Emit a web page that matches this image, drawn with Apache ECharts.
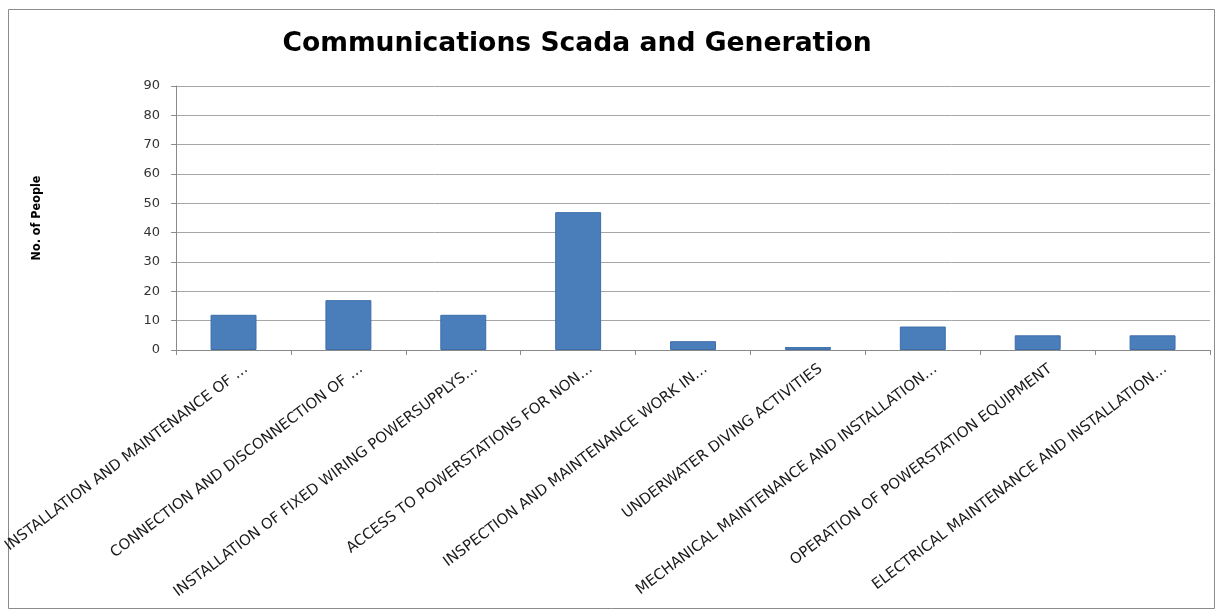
<!DOCTYPE html>
<html>
<head>
<meta charset="utf-8">
<script src="https://cdn.jsdelivr.net/npm/echarts@6/dist/echarts.min.js"></script>
<style>
  html, body { margin: 0; padding: 0; background: #fff; }
  #chart { width: 1219px; height: 612px; }
</style>
</head>
<body>
<div id="chart"></div>
<script>
// Activity categories (x axis)
const categories = [
  'INSTALLATION AND MAINTENANCE OF …',
  'CONNECTION AND DISCONNECTION OF …',
  'INSTALLATION OF FIXED WIRING POWERSUPPLYS…',
  'ACCESS TO POWERSTATIONS FOR NON…',
  'INSPECTION AND MAINTENANCE WORK IN…',
  'UNDERWATER DIVING ACTIVITIES',
  'MECHANICAL MAINTENANCE AND INSTALLATION…',
  'OPERATION OF POWERSTATION EQUIPMENT',
  'ELECTRICAL MAINTENANCE AND INSTALLATION…'
];
// Number of people per activity
const people = [12, 17, 12, 47, 3, 1, 8, 5, 5];
// Value axis range
const yMin = 0, yMax = 90, yStep = 10;

const chart = echarts.init(document.getElementById('chart'), null, { renderer: 'canvas' });
chart.setOption({
  backgroundColor: '#ffffff',
  animation: false,
  title: {
    text: 'Communications Scada and Generation',
    left: 572, top: 26, textAlign: 'center',
    textStyle: { fontFamily: 'DejaVu Sans', fontWeight: 'bold', fontSize: 26.6, color: '#000' }
  },
  graphic: [{
    type: 'rect', left: 6, top: 7,
    shape: { width: 1206, height: 599 },
    style: { fill: 'none', stroke: '#8c8c8c', lineWidth: 1 },
    silent: true
  }],
  grid: { left: 176, right: 9, top: 86, bottom: 262 },
  xAxis: {
    type: 'category',
    data: categories,
    axisLine: { lineStyle: { color: '#8a8a8a', width: 1 } },
    axisTick: { show: true, alignWithLabel: false, length: 5, lineStyle: { color: '#8a8a8a' } },
    axisLabel: {
      interval: 0, rotate: 37, margin: 27,
      padding: [0, -16, 0, 0],
      fontFamily: 'DejaVu Sans', fontSize: 14.8, color: '#1a1a1a'
    }
  },
  yAxis: {
    type: 'value',
    min: yMin, max: yMax, interval: yStep,
    name: 'No. of People',
    nameLocation: 'middle', nameGap: 133, nameRotate: 90,
    nameTextStyle: { fontFamily: 'DejaVu Sans Condensed', fontWeight: 'bold', fontSize: 12.5, color: '#000' },
    axisLine: { show: true, lineStyle: { color: '#8a8a8a' } },
    axisTick: { show: true, length: 5, lineStyle: { color: '#8a8a8a' } },
    axisLabel: { fontFamily: 'DejaVu Sans', fontSize: 13, color: '#333', margin: 16 },
    splitLine: { lineStyle: { color: '#a6a6a6', width: 1 } }
  },
  series: [{
    type: 'bar',
    data: people,
    barCategoryGap: '60%',
    itemStyle: { color: '#4a7ebb', borderColor: '#3d6eaa', borderWidth: 1 }
  }]
});
</script>
</body>
</html>
